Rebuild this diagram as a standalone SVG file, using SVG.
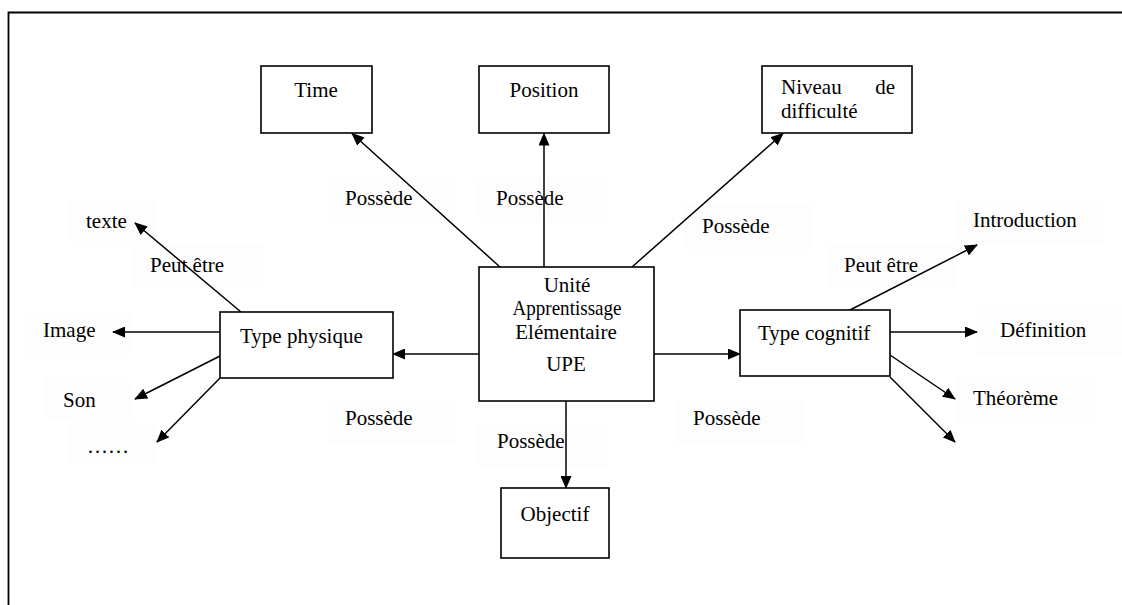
<svg xmlns="http://www.w3.org/2000/svg" width="1122" height="605" viewBox="0 0 1122 605">
  <style>
    .box { fill: #ffffff; stroke: #000000; stroke-width: 1.6; }
    .lbl-bg { fill: #fdfdfd; stroke: none; }
    .t { font-family: "Liberation Serif", "Times New Roman", serif; font-size: 21px; fill: #000000; }
    .c { text-anchor: middle; }
    .edge { stroke: #000000; stroke-width: 1.5; fill: none; marker-end: url(#arrow); }
  </style>
  <defs>
    <marker id="arrow" viewBox="0 0 13 11" refX="12" refY="5.5" markerWidth="13" markerHeight="11" markerUnits="userSpaceOnUse" orient="auto">
      <path d="M0,0 L13,5.5 L0,11 z" fill="#000000"/>
    </marker>
  </defs>

  <rect width="1122" height="605" fill="#ffffff"/>
  <!-- frame (left and top edges) -->
  <path d="M8.5,605 V12.5 H1122" fill="none" stroke="#000000" stroke-width="1.8"/>

  <!-- edge labels -->
  <g id="labels">
    <rect class="lbl-bg" x="327" y="177" width="130" height="45"/>
    <text class="t" x="345" y="205">Possède</text>
    <rect class="lbl-bg" x="478" y="177" width="130" height="45"/>
    <text class="t" x="496" y="205">Possède</text>
    <rect class="lbl-bg" x="683" y="205" width="130" height="45"/>
    <text class="t" x="702" y="233">Possède</text>
    <rect class="lbl-bg" x="327" y="400" width="130" height="45"/>
    <text class="t" x="345" y="425">Possède</text>
    <rect class="lbl-bg" x="478" y="423" width="130" height="45"/>
    <text class="t" x="497" y="448">Possède</text>
    <rect class="lbl-bg" x="675" y="400" width="130" height="45"/>
    <text class="t" x="693" y="425">Possède</text>
    <rect class="lbl-bg" x="133" y="243" width="130" height="45"/>
    <text class="t" x="150" y="272">Peut être</text>
    <rect class="lbl-bg" x="828" y="243" width="130" height="45"/>
    <text class="t" x="844" y="272">Peut être</text>
  </g>

  <!-- leaf values -->
  <g id="leaf-texte">
    <rect class="lbl-bg" x="67" y="200" width="90" height="42"/>
    <text class="t" x="86" y="228">texte</text>
  </g>
  <g id="leaf-image">
    <rect class="lbl-bg" x="25" y="312" width="105" height="42"/>
    <text class="t" x="43" y="337">Image</text>
  </g>
  <g id="leaf-son">
    <rect class="lbl-bg" x="45" y="378" width="85" height="42"/>
    <text class="t" x="63" y="407">Son</text>
  </g>
  <g id="leaf-etc">
    <rect class="lbl-bg" x="67" y="423" width="90" height="42"/>
    <text class="t" x="87" y="453">……</text>
  </g>
  <g id="leaf-introduction">
    <rect class="lbl-bg" x="955" y="200" width="150" height="45"/>
    <text class="t" x="973" y="227">Introduction</text>
  </g>
  <g id="leaf-definition">
    <rect class="lbl-bg" x="977" y="310" width="145" height="45"/>
    <text class="t" x="1000" y="337">Définition</text>
  </g>
  <g id="leaf-theoreme">
    <rect class="lbl-bg" x="955" y="378" width="140" height="45"/>
    <text class="t" x="973" y="405">Théorème</text>
  </g>

  <!-- connectors -->
  <g id="connectors">
    <line class="edge" x1="500" y1="267" x2="352" y2="133.5"/>
    <line class="edge" x1="544" y1="267" x2="544" y2="133.5"/>
    <line class="edge" x1="632" y1="267" x2="783" y2="133.5"/>
    <line class="edge" x1="479" y1="354" x2="393" y2="354"/>
    <line class="edge" x1="654" y1="354" x2="740" y2="354"/>
    <line class="edge" x1="566" y1="401" x2="566" y2="488"/>
    <line class="edge" x1="241" y1="312" x2="135" y2="223"/>
    <line class="edge" x1="220" y1="332" x2="113" y2="332"/>
    <line class="edge" x1="220" y1="356" x2="135" y2="399"/>
    <line class="edge" x1="220" y1="378" x2="157" y2="442"/>
    <line class="edge" x1="850" y1="310" x2="977" y2="245"/>
    <line class="edge" x1="890" y1="332" x2="977" y2="332"/>
    <line class="edge" x1="890" y1="355" x2="955" y2="399"/>
    <line class="edge" x1="890" y1="377" x2="955" y2="442"/>
  </g>

  <!-- nodes -->
  <g id="node-time">
    <rect class="box" x="261" y="66" width="111" height="67"/>
    <text class="t c" x="316" y="97">Time</text>
  </g>
  <g id="node-position">
    <rect class="box" x="479" y="66" width="130" height="67"/>
    <text class="t c" x="544" y="97">Position</text>
  </g>
  <g id="node-niveau">
    <rect class="box" x="762" y="66" width="150" height="67"/>
    <text class="t" x="781" y="94">Niveau</text>
    <text class="t" x="895" y="94" text-anchor="end">de</text>
    <text class="t" x="781" y="118">difficulté</text>
  </g>
  <g id="node-upe">
    <rect class="box" x="479" y="267" width="175" height="134"/>
    <text class="t c" x="567" y="292">Unité</text>
    <text class="t c" x="567" y="315" textLength="109" lengthAdjust="spacingAndGlyphs">Apprentissage</text>
    <text class="t c" x="566" y="339">Elémentaire</text>
    <text class="t c" x="566" y="371">UPE</text>
  </g>
  <g id="node-type-physique">
    <rect class="box" x="220" y="312" width="173" height="66"/>
    <text class="t" x="240" y="343">Type physique</text>
  </g>
  <g id="node-type-cognitif">
    <rect class="box" x="740" y="310" width="150" height="66"/>
    <text class="t" x="758" y="340">Type cognitif</text>
  </g>
  <g id="node-objectif">
    <rect class="box" x="501" y="488" width="108" height="70"/>
    <text class="t c" x="555" y="521">Objectif</text>
  </g>
</svg>
